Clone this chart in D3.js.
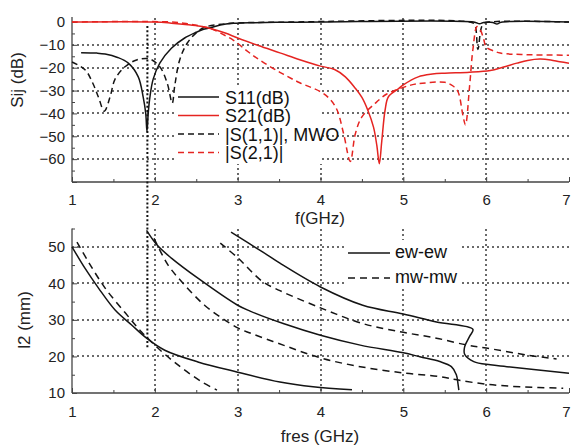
<!DOCTYPE html>
<html><head><meta charset="utf-8">
<script src="https://cdn.jsdelivr.net/npm/d3@7/dist/d3.min.js"></script>
<style>body{margin:0;background:#fff}svg{display:block}text{font-family:Arial,"Liberation Sans",sans-serif}</style>
</head><body><svg id="c" width="571" height="448"></svg>
<script>
// ---- data (top panel: f in GHz, dB) ----
const s11 = [[1.11,-13.4],[1.3,-13.6],[1.4,-14],[1.55,-15.5],[1.68,-18],[1.8,-24],[1.86,-33],[1.89,-40],[1.905,-48],[1.92,-40],[1.94,-33],[1.98,-25],[2.06,-18],[2.2,-11.5],[2.36,-7],[2.5,-4.5],[2.58,-3.3],[2.67,-2.5],[2.79,-1.3],[2.95,-0.6],[3.2,-0.3],[3.6,-0.1],[4,0],[5.85,0],[5.92,-0.8],[5.97,-0.2],[6.08,-0.2],[6.13,-0.9],[6.18,-0.1],[7,0]];
const s21 = [[1,0],[2.0,0],[2.2,-0.5],[2.4,-1.2],[2.55,-1.9],[2.67,-2.8],[2.85,-4.8],[3.0,-7],[3.25,-10.3],[3.51,-13.5],[3.75,-16.5],[4.0,-19.3],[4.17,-20.8],[4.3,-24],[4.42,-29],[4.5,-33],[4.57,-38.5],[4.64,-46],[4.68,-54],[4.71,-62],[4.74,-52],[4.78,-38.5],[4.82,-32.7],[4.93,-29.5],[5.0,-27.5],[5.18,-24],[5.35,-22.8],[5.5,-22.4],[5.8,-22],[6.05,-21.2],[6.2,-19.8],[6.37,-18],[6.5,-16.8],[6.65,-16.2],[6.78,-16.6],[6.89,-17.4],[7.0,-18]];
const s11mwo = [[1.0,-17.5],[1.16,-21],[1.25,-26.7],[1.32,-33],[1.39,-39],[1.46,-32.7],[1.52,-25],[1.64,-19.6],[1.78,-16.6],[1.94,-16.2],[2.06,-19.6],[2.15,-26.8],[2.21,-35.5],[2.24,-28],[2.30,-16.6],[2.39,-9.3],[2.51,-4.4],[2.6,-2.3],[2.8,-1],[3.0,-0.4],[3.5,-0.1],[5.8,0],[5.86,-1],[5.9,-12],[5.96,-1],[6.05,0],[7,0]];
const s21mwo = [[1,0],[2.2,0],[2.4,-0.8],[2.55,-1.8],[2.67,-2.8],[2.8,-5],[2.95,-8],[3.1,-12.3],[3.2,-15],[3.35,-18.6],[3.51,-22],[3.6,-23.8],[3.75,-26.6],[4.0,-30.5],[4.12,-34],[4.2,-38.5],[4.28,-49],[4.36,-61],[4.42,-49],[4.5,-41.5],[4.66,-35.6],[4.8,-31.5],[4.93,-29.5],[5.1,-27.5],[5.23,-26.8],[5.5,-26.4],[5.6,-28],[5.66,-30.5],[5.72,-41],[5.75,-45],[5.8,-28],[5.84,-12],[5.89,-2],[5.93,-3.5],[5.97,-7.5],[6.0,-11],[6.1,-12.8],[6.17,-13.6],[6.5,-14.3],[7,-14.5]];
// ---- data (bottom panel: fres in GHz, l2 in mm) ----
const ew1 = [[1.0,50],[1.16,44],[1.32,38.7],[1.52,32.7],[1.72,28.6],[1.9,25],[2.12,21.7],[2.52,18.5],[3.0,15.7],[3.51,13],[3.91,11.7],[4.38,10.9]];
const mw1 = [[1.06,51.3],[1.2,45.8],[1.4,38.7],[1.64,32],[1.84,26.7],[2.09,21.2],[2.33,16.8],[2.57,13],[2.75,10.8]];
const ew2 = [[1.9,54.5],[2.03,50.4],[2.2,46.9],[2.52,41.4],[3.0,34],[3.15,32.4],[3.55,29],[4.0,25.8],[4.48,23.1],[5.0,21],[5.2,19.9],[5.44,18.6],[5.58,17.2],[5.64,15],[5.66,12.5],[5.67,10.8]];
const mw2 = [[1.99,52.3],[2.16,45],[2.33,40.3],[2.6,34],[2.81,30.5],[3.0,27.8],[3.15,26.4],[3.55,23.1],[4.0,19.6],[4.48,17.2],[5.0,15.5],[5.44,14.5],[5.65,13.6],[6.0,12.4],[6.41,11.7],[6.93,11.3]];
const ew3 = [[2.92,54],[3.3,48.6],[3.51,45.5],[4.0,39],[4.51,34],[5.0,31.6],[5.4,29.4],[5.84,27.4],[5.8,25.5],[5.74,22.6],[5.74,20.6],[5.85,18.6],[6.05,17.7],[6.25,17.2],[7.0,15.4]];
const mw3 = [[2.79,51],[3.0,47],[3.3,40.5],[3.51,38],[4.0,33.3],[4.51,29],[5.0,26.6],[5.4,25],[5.77,23.1],[6.0,22.3],[6.49,20.4],[6.85,19.3]];
const xTicks = [1,2,3,4,5,6,7];
const yTopTicks = [0,-10,-20,-30,-40,-50,-60];
const yBotTicks = [10,20,30,40,50];
const topLegend = ["S11(dB)","S21(dB)","|S(1,1)|, MWO","|S(2,1)|"];
const botLegend = ["ew-ew","mw-mw"];
const marker = 1.91;

const RED = "#e52421", BLK = "#141414";
const svg = d3.select("#c");
svg.append("rect").attr("width",571).attr("height",448).attr("fill","#fff");

const x = d3.scaleLinear([1,7],[72,569]);
const yT = d3.scaleLinear([-70,0],[182,22]);
const yB = d3.scaleLinear([10,55],[393,228.5]);

function grid(ys, yScale, y0, y1){
  const g = svg.append("g").attr("stroke","#6a6a6a").attr("stroke-width",2).attr("stroke-dasharray","2,3");
  ys.forEach(v=>g.append("line").attr("x1",x(1)).attr("x2",x(7)).attr("y1",Math.round(yScale(v))).attr("y2",Math.round(yScale(v))));
  [2,3,4,5,6].forEach(v=>g.append("line").attr("x1",Math.round(x(v))).attr("x2",Math.round(x(v))).attr("y1",y0).attr("y2",y1));
}
grid([-10,-20,-30,-40,-50,-60], yT, 18, 182);
grid([20,30,40,50], yB, 229, 393);

// legend boxes (white, no border) cover the grid
svg.append("rect").attr("x",176).attr("y",88).attr("width",146).attr("height",76).attr("fill","#fff");
svg.append("rect").attr("x",344).attr("y",240).attr("width",118).attr("height",49).attr("fill","#fff");

function axes(yScale, ticks, minor, yTopPx, yBotPx, xpad){
  svg.append("g").attr("transform",`translate(0,${yBotPx})`)
    .call(d3.axisBottom(x).tickValues(xTicks).tickSize(-5).tickPadding(xpad).tickFormat(d3.format("d")));
  svg.append("g").attr("transform",`translate(0,${yBotPx})`)
    .call(d3.axisBottom(x).tickValues(d3.range(1.5,7,1)).tickSize(-3).tickFormat(""));
  svg.append("g").attr("transform",`translate(${x(1)},0)`)
    .call(d3.axisLeft(yScale).tickValues(ticks).tickSize(-5).tickPadding(7).tickFormat(d3.format("d")));
  svg.append("g").attr("transform",`translate(${x(1)},0)`)
    .call(d3.axisLeft(yScale).tickValues(minor).tickSize(-3).tickFormat(""));
  svg.selectAll(".domain").remove();
  svg.append("line").attr("x1",x(1)).attr("x2",x(1)).attr("y1",yTopPx).attr("y2",yBotPx).attr("stroke","#444").attr("stroke-width",1.3);
  svg.append("line").attr("x1",x(1)).attr("x2",x(7)).attr("y1",yBotPx).attr("y2",yBotPx).attr("stroke","#444").attr("stroke-width",1.3);
}
axes(yT, yTopTicks.concat([-70]), [-5,-15,-25,-35,-45,-55,-65], 17, 182, 12);
axes(yB, yBotTicks, [15,25,35,45,55], 228.5, 393, 13);
svg.selectAll(".tick line").attr("stroke","#444");
svg.selectAll(".tick text").attr("font-size",15).attr("fill","#222").attr("font-family","Arial, 'Liberation Sans', sans-serif");
svg.selectAll(".tick text").filter(d=>d===-70).remove();
svg.selectAll(".tick text").filter(d=>d===7).attr("dx",-3);

// marker line at f = 1.91
svg.append("line").attr("x1",x(marker)).attr("x2",x(marker)).attr("y1",26).attr("y2",348)
  .attr("stroke","#111").attr("stroke-width",2).attr("stroke-dasharray","2,2.2");

const lineT = d3.line().x(d=>x(d[0])).y(d=>yT(d[1])).curve(d3.curveCatmullRom.alpha(0.5));
const lineB = d3.line().x(d=>x(d[0])).y(d=>yB(d[1])).curve(d3.curveCatmullRom.alpha(0.5));
function path(data, gen, color, dash){
  svg.append("path").attr("d",gen(data)).attr("fill","none").attr("stroke",color).attr("stroke-width",1.5)
    .attr("stroke-dasharray",dash||null);
}
path(s11mwo, lineT, BLK, "6,4");
path(s21mwo, lineT, RED, "6,4");
path(s11, lineT, BLK);
path(s21, lineT, RED);
[ew1,ew2,ew3].forEach(d=>path(d, lineB, BLK));
[mw1,mw2,mw3].forEach(d=>path(d, lineB, BLK, "7,5"));

// legends
const legStyle = [[BLK,null],[RED,null],[BLK,"6,4"],[RED,"6,4"]];
topLegend.forEach((t,i)=>{
  const yy = 97 + i*18.5;
  svg.append("line").attr("x1",178).attr("x2",219).attr("y1",yy).attr("y2",yy)
    .attr("stroke",legStyle[i][0]).attr("stroke-width",1.5).attr("stroke-dasharray",legStyle[i][1]);
  svg.append("text").attr("x",225).attr("y",yy+6.5).attr("font-size",18).attr("fill","#111").text(t);
});
botLegend.forEach((t,i)=>{
  const yy = 253 + i*25;
  svg.append("line").attr("x1",348).attr("x2",390).attr("y1",yy).attr("y2",yy)
    .attr("stroke",BLK).attr("stroke-width",1.5).attr("stroke-dasharray",i?"7,5":null);
  svg.append("text").attr("x",395).attr("y",yy+5).attr("font-size",18).attr("fill","#111").text(t);
});

// axis titles
svg.append("text").attr("transform","translate(23,80) rotate(-90)").attr("text-anchor","middle").attr("font-size",17).attr("fill","#222").text("Sij (dB)");
svg.append("text").attr("transform","translate(30,320) rotate(-90)").attr("text-anchor","middle").attr("font-size",17).attr("fill","#222").text("l2 (mm)");
svg.append("text").attr("x",320).attr("y",224).attr("text-anchor","middle").attr("font-size",17).attr("fill","#222").text("f(GHz)");
svg.append("text").attr("x",320).attr("y",442).attr("text-anchor","middle").attr("font-size",17).attr("fill","#222").text("fres (GHz)");
</script></body></html>
